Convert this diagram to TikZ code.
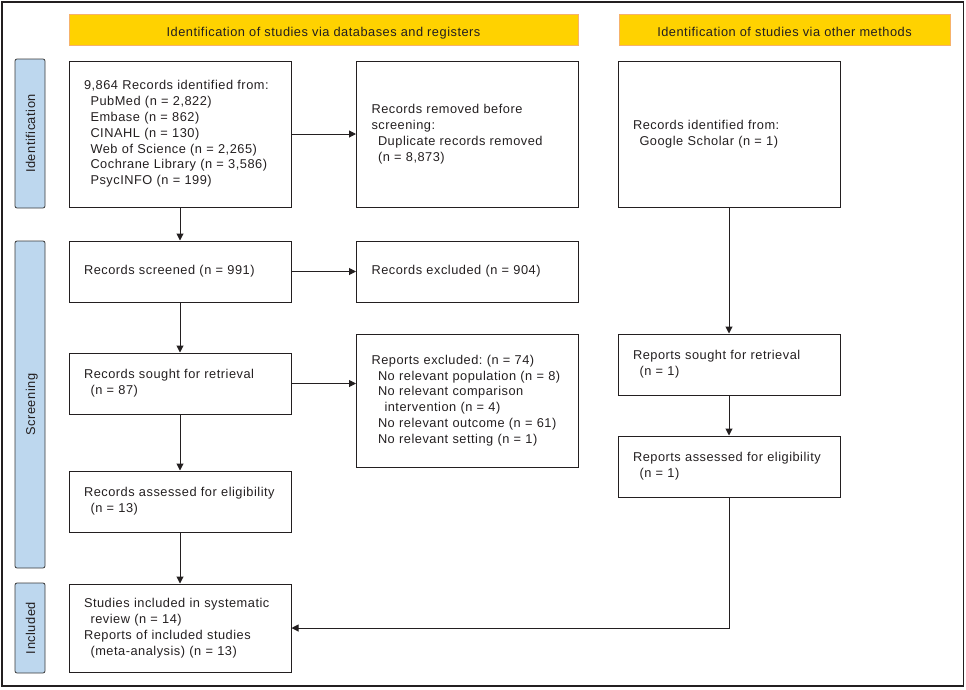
\documentclass[tikz,border=0pt]{standalone}
\usepackage{fontspec}
\setmainfont{Liberation Sans}[LetterSpace=4]
\usetikzlibrary{arrows.meta}
\definecolor{ink}{HTML}{231F20}
\definecolor{hdr}{HTML}{FFD200}
\definecolor{hdredge}{HTML}{F6B26B}
\definecolor{side}{HTML}{BDD7EE}
\definecolor{sideedge}{HTML}{3A3A3A}
\newcommand\myind{\hspace*{6.5pt}}
\newcommand\myfont{\fontsize{12.8}{15.8}\selectfont}
\hyphenpenalty=10000
\exhyphenpenalty=10000
\frenchspacing
\begin{document}
\frenchspacing
\begin{tikzpicture}[x=1pt,y=-1pt,
  font=\myfont,
  >={Triangle[length=7pt,width=7pt]},
  hdrbox/.style={fill=hdr, draw=hdredge, line width=0.8pt, text=ink, inner sep=0pt, minimum height=31pt, text height=13pt, text depth=0pt},
  sidebox/.style={fill=side, draw=sideedge, line width=0.8pt, rounded corners=2pt, rotate=90, minimum height=30pt, inner sep=0pt, text=ink, text height=10pt, text depth=0pt},
  flowbox/.style={draw=ink, line width=1pt, text=ink, inner xsep=15pt, inner ysep=0pt, text width=192pt, align=left},
  conn/.style={draw=ink, line width=1pt, ->}]
\useasboundingbox (0,0) rectangle (966,689);
\draw[ink, line width=1.2pt] (2,2) rectangle (963.5,686);

\node[hdrbox, minimum width=509pt] (h1) at (323.5,29.5) {Identification of studies via databases and registers};
\node[hdrbox, minimum width=331pt] (h2) at (784.5,29.5) {Identification of studies via other methods};

\node[sidebox, minimum width=149pt] (s1) at (30,133.5) {Identification};
\node[sidebox, minimum width=327pt] (s2) at (30,404.5) {Screening};
\node[sidebox, minimum width=90pt] (s3) at (30,628) {Included};

\node[flowbox, minimum height=146pt] (b1) at (180,134) {9,864 Records identified from:\\
\myind PubMed (n = 2,822)\\
\myind Embase (n = 862)\\
\myind CINAHL (n = 130)\\
\myind Web of Science (n = 2,265)\\
\myind Cochrane Library (n = 3,586)\\
\myind PsycINFO (n = 199)};
\node[flowbox, minimum height=146pt] (b2) at (467.5,134) {Records removed before\\
screening:\\
\myind Duplicate records removed\\
\myind (n = 8,873)};
\node[flowbox, minimum height=146pt] (b3) at (729,134) {Records identified from:\\
\myind Google Scholar (n = 1)};

\node[flowbox, minimum height=61pt] (scr) at (180,271.5) {Records screened (n = 991)};
\node[flowbox, minimum height=61pt] (exc) at (467.5,271.5) {Records excluded (n = 904)};
\node[flowbox, minimum height=61pt] (sou) at (180,383.5) {Records sought for retrieval\\
\myind (n = 87)};
\node[flowbox, minimum height=133pt] (rex) at (467.5,400.5) {Reports excluded: (n = 74)\\
\myind No relevant population (n = 8)\\
\myind No relevant comparison\\
\myind\myind intervention (n = 4)\\
\myind No relevant outcome (n = 61)\\
\myind No relevant setting (n = 1)};
\node[flowbox, minimum height=61pt] (rso) at (729,364.5) {Reports sought for retrieval\\
\myind (n = 1)};
\node[flowbox, minimum height=61pt] (ass) at (180,501.5) {Records assessed for eligibility\\
\myind (n = 13)};
\node[flowbox, minimum height=61pt] (ras) at (729,466.5) {Reports assessed for eligibility\\
\myind (n = 1)};
\node[flowbox, minimum height=88pt] (inc) at (180,628) {Studies included in systematic\\
\myind review (n = 14)\\
Reports of included studies\\
\myind (meta-analysis) (n = 13)};

\draw[conn] (b1) -- (scr);
\draw[conn] (b1) -- (b2);
\draw[conn] (scr) -- (exc);
\draw[conn] (scr) -- (sou);
\draw[conn] (sou.east) -- (sou.east -| rex.west);
\draw[conn] (sou) -- (ass);
\draw[conn] (ass) -- (inc);
\draw[conn] (b3) -- (rso);
\draw[conn] (rso) -- (ras);
\draw[conn] (ras.south) |- (inc.east);
\end{tikzpicture}
\end{document}
